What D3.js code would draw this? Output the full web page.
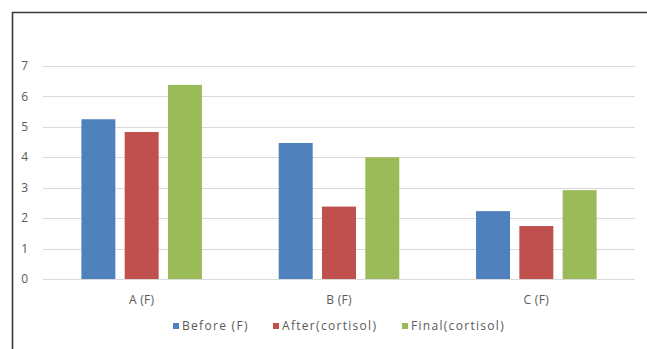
<!DOCTYPE html>
<html><head><meta charset="utf-8">
<script src="https://cdn.jsdelivr.net/npm/d3@7"></script>
<style>body{margin:0;background:#fff}svg{display:block}</style>
</head><body>
<script>
const categories = ["A (F)", "B (F)", "C (F)"];
const seriesNames = ["Before (F)", "After(cortisol)", "Final(cortisol)"];
const beforeF = [5.25, 4.47, 2.23];
const afterCortisol = [4.83, 2.38, 1.74];
const finalCortisol = [6.38, 4.0, 2.92];
const yTicks = [0, 1, 2, 3, 4, 5, 6, 7];
const colors = ["#4F81BD", "#C0504D", "#9BBB59"];

const W = 647, H = 349;
const svg = d3.select("body").append("svg").attr("width", W).attr("height", H);
svg.append("rect").attr("width", W).attr("height", H).attr("fill", "#fff");
// frame (cropped at right and bottom)
svg.append("path").attr("d", "M12.5,349 V12.5 H647").attr("fill", "none").attr("stroke", "#3a3a3a").attr("stroke-width", 1.6);

const series = [beforeF, afterCortisol, finalCortisol];
const y = d3.scaleLinear().domain([0, 7]).range([279, 66]);
const x0 = d3.scaleBand().domain(categories).range([43, 635]).paddingInner(0.389).paddingOuter(0.1945);
const x1 = d3.scaleBand().domain(seriesNames).range([0, x0.bandwidth()]).paddingInner(0.215).paddingOuter(0);

const font = "'Open Sans', 'DejaVu Sans', sans-serif";
// gridlines
svg.append("g").selectAll("line").data(yTicks).join("line")
  .attr("x1", 43).attr("x2", 635)
  .attr("y1", d => Math.round(y(d)) + 0.5).attr("y2", d => Math.round(y(d)) + 0.5)
  .attr("stroke", "#d9d9d9").attr("stroke-width", 1);

svg.append("g").selectAll("text").data(yTicks).join("text")
  .attr("x", 28).attr("y", d => y(d)).attr("dy", "0.35em")
  .attr("text-anchor", "end").attr("font-family", font).attr("font-size", 12)
  .attr("fill", "#595959").text(d => d);

// bars
const g = svg.append("g");
categories.forEach((c, i) => {
  g.selectAll(null).data(seriesNames).join("rect")
    .attr("x", s => x0(c) + x1(s))
    .attr("width", x1.bandwidth())
    .attr("y", (s, j) => y(series[j][i]))
    .attr("height", (s, j) => y(0) - y(series[j][i]))
    .attr("fill", (s, j) => colors[j]);
});

// x labels
svg.append("g").selectAll("text").data(categories).join("text")
  .attr("x", d => x0(d) + x0.bandwidth() / 2).attr("y", 300).attr("dy", "0.35em")
  .attr("text-anchor", "middle").attr("font-family", font).attr("font-size", 12)
  .attr("letter-spacing", 0.3)
  .attr("fill", "#595959").text(d => d);

// legend
const legX = [173, 273, 402];
const leg = svg.append("g");
seriesNames.forEach((s, j) => {
  leg.append("rect").attr("x", legX[j]).attr("y", 323).attr("width", 6).attr("height", 6).attr("fill", colors[j]);
  leg.append("text").attr("x", legX[j] + 9).attr("y", 326).attr("dy", "0.35em")
    .attr("font-family", font).attr("font-size", 12).attr("letter-spacing", 1.3)
    .attr("fill", "#595959").text(s);
});
</script>
</body></html>
